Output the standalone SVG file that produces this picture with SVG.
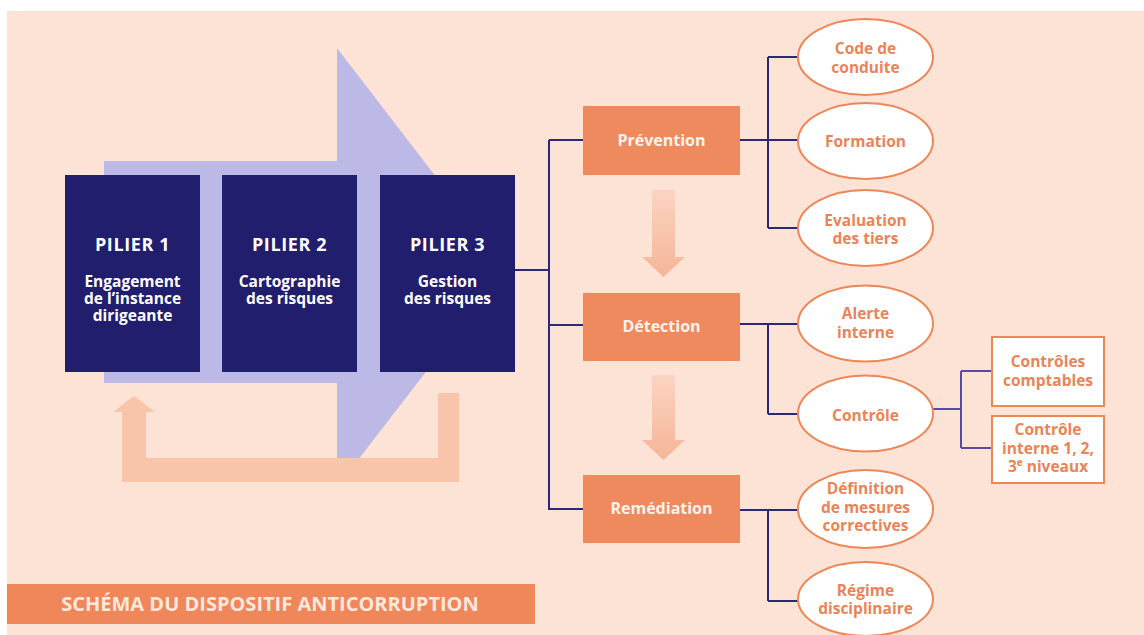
<svg xmlns="http://www.w3.org/2000/svg" width="1144" height="635" viewBox="0 0 1144 635">
<defs>
<style>
.bg{fill:#fde3d6}
.pil{fill:#211e6e}
.pt{font-family:"Open Sans","Liberation Sans",sans-serif;font-weight:700;fill:#ffffff;text-anchor:middle}
.ob{fill:#ef8a5e}
.ot{font-family:"Open Sans","Liberation Sans",sans-serif;font-weight:700;font-size:16px;fill:#fff3ec;text-anchor:middle}
.el{fill:#ffffff;stroke:#ee8658;stroke-width:2}
.et{font-family:"Open Sans","Liberation Sans",sans-serif;font-weight:700;font-size:15.5px;fill:#ea8357;text-anchor:middle}
.ln{fill:none;stroke:#2c2878;stroke-width:2}
.ln2{fill:none;stroke:#5a4aa0;stroke-width:2}
</style>
<linearGradient id="dg" x1="0" y1="0" x2="0" y2="1">
<stop offset="0" stop-color="#fbd4c1"/>
<stop offset="1" stop-color="#f5b597"/>
</linearGradient>
</defs>
<rect width="1144" height="635" fill="#ffffff"/>
<rect class="bg" x="7" y="11" width="1137" height="624"/>

<g id="big-arrow">
<polygon points="104,161 337,161 337,48 506,268 341,482 337,482 337,383 104,383" fill="#bdb9e6"/>
</g>
<g id="feedback-arrow">
<polygon points="113,412 134,396 155,412 146,412 146,458 438,458 438,393 459,393 459,482 122,482 122,412" fill="#f8c4aa"/>
</g>
<g id="down-arrows">
<polygon points="652,190 675,190 675,257 685,257 663.5,277 642,257 652,257" fill="url(#dg)"/>
<polygon points="652,375 675,375 675,440 685,440 663.5,460 642,440 652,440" fill="url(#dg)"/>
</g>

<g id="connectors">
<path class="ln" d="M515,270 H549 M549,140 V510 M549,140 H583 M549,325 H583 M549,509 H583"/>
<path class="ln" d="M740,140 H800 M768,57 V228 M768,57 H800 M768,228 H800"/>
<path class="ln" d="M740,324 H800 M768,324 V414 M768,414 H800"/>
<path class="ln" d="M740,510 H800 M768,510 V601 M768,601 H800"/>
<path class="ln2" d="M932,409 H961 M961,371 V448 M961,371 H992 M961,448 H992"/>
</g>

<g id="pilier1">
<rect class="pil" x="65" y="175" width="135" height="197"/>
<text class="pt" x="132.5" y="251" font-size="18" letter-spacing="0.6">PILIER 1</text>
<text class="pt" x="132.5" y="287" font-size="15.5">Engagement</text>
<text class="pt" x="132.5" y="304" font-size="15.5">de l’instance</text>
<text class="pt" x="132.5" y="321" font-size="15.5">dirigeante</text>
</g>
<g id="pilier2">
<rect class="pil" x="222" y="175" width="135" height="197"/>
<text class="pt" x="289.5" y="251" font-size="18" letter-spacing="0.6">PILIER 2</text>
<text class="pt" x="289.5" y="287" font-size="15.5">Cartographie</text>
<text class="pt" x="289.5" y="304" font-size="15.5">des risques</text>
</g>
<g id="pilier3">
<rect class="pil" x="380" y="175" width="135" height="197"/>
<text class="pt" x="447.5" y="251" font-size="18" letter-spacing="0.6">PILIER 3</text>
<text class="pt" x="447.5" y="287" font-size="15.5">Gestion</text>
<text class="pt" x="447.5" y="304" font-size="15.5">des risques</text>
</g>

<g id="prevention">
<rect class="ob" x="583" y="106" width="157" height="69"/>
<text class="ot" x="661.5" y="146">Prévention</text>
</g>
<g id="detection">
<rect class="ob" x="583" y="293" width="157" height="68"/>
<text class="ot" x="661.5" y="332">Détection</text>
</g>
<g id="remediation">
<rect class="ob" x="583" y="475" width="157" height="68"/>
<text class="ot" x="661.5" y="514">Remédiation</text>
</g>

<g id="code-conduite">
<ellipse class="el" cx="865.5" cy="57" rx="67.5" ry="38"/>
<text class="et" x="865.5" y="54">Code de</text>
<text class="et" x="865.5" y="73">conduite</text>
</g>
<g id="formation">
<ellipse class="el" cx="865.5" cy="141" rx="67.5" ry="38"/>
<text class="et" x="865.5" y="147">Formation</text>
</g>
<g id="evaluation">
<ellipse class="el" cx="865.5" cy="228" rx="67.5" ry="38"/>
<text class="et" x="865.5" y="226">Evaluation</text>
<text class="et" x="865.5" y="244">des tiers</text>
</g>
<g id="alerte">
<ellipse class="el" cx="865.5" cy="323.5" rx="67.5" ry="38"/>
<text class="et" x="865.5" y="319">Alerte</text>
<text class="et" x="865.5" y="338">interne</text>
</g>
<g id="controle">
<ellipse class="el" cx="865.5" cy="413.5" rx="67.5" ry="38"/>
<text class="et" x="865.5" y="421">Contrôle</text>
</g>
<g id="definition">
<ellipse class="el" cx="865.5" cy="509" rx="67.5" ry="39"/>
<text class="et" x="865.5" y="494">Définition</text>
<text class="et" x="865.5" y="513">de mesures</text>
<text class="et" x="865.5" y="531">correctives</text>
</g>
<g id="regime">
<ellipse class="el" cx="865.5" cy="599" rx="67.5" ry="37"/>
<text class="et" x="865.5" y="596">Régime</text>
<text class="et" x="865.5" y="614">disciplinaire</text>
</g>

<g id="controles-comptables">
<rect class="el" x="992" y="337" width="112" height="69"/>
<text class="et" x="1048" y="367">Contrôles</text>
<text class="et" x="1048" y="386">comptables</text>
</g>
<g id="controle-interne">
<rect class="el" x="992" y="416" width="112" height="67"/>
<text class="et" x="1048" y="435">Contrôle</text>
<text class="et" x="1048" y="454">interne 1, 2,</text>
<text class="et" x="1048" y="472">3<tspan font-size="10" dy="-6">e</tspan><tspan dy="6"> niveaux</tspan></text>
</g>

<g id="title">
<rect x="7" y="584" width="528" height="40" fill="#f0875b"/>
<text x="270" y="611" font-family="'Open Sans','Liberation Sans',sans-serif" font-weight="700" font-size="20" fill="#fde8dc" text-anchor="middle">SCHÉMA DU DISPOSITIF ANTICORRUPTION</text>
</g>
</svg>
